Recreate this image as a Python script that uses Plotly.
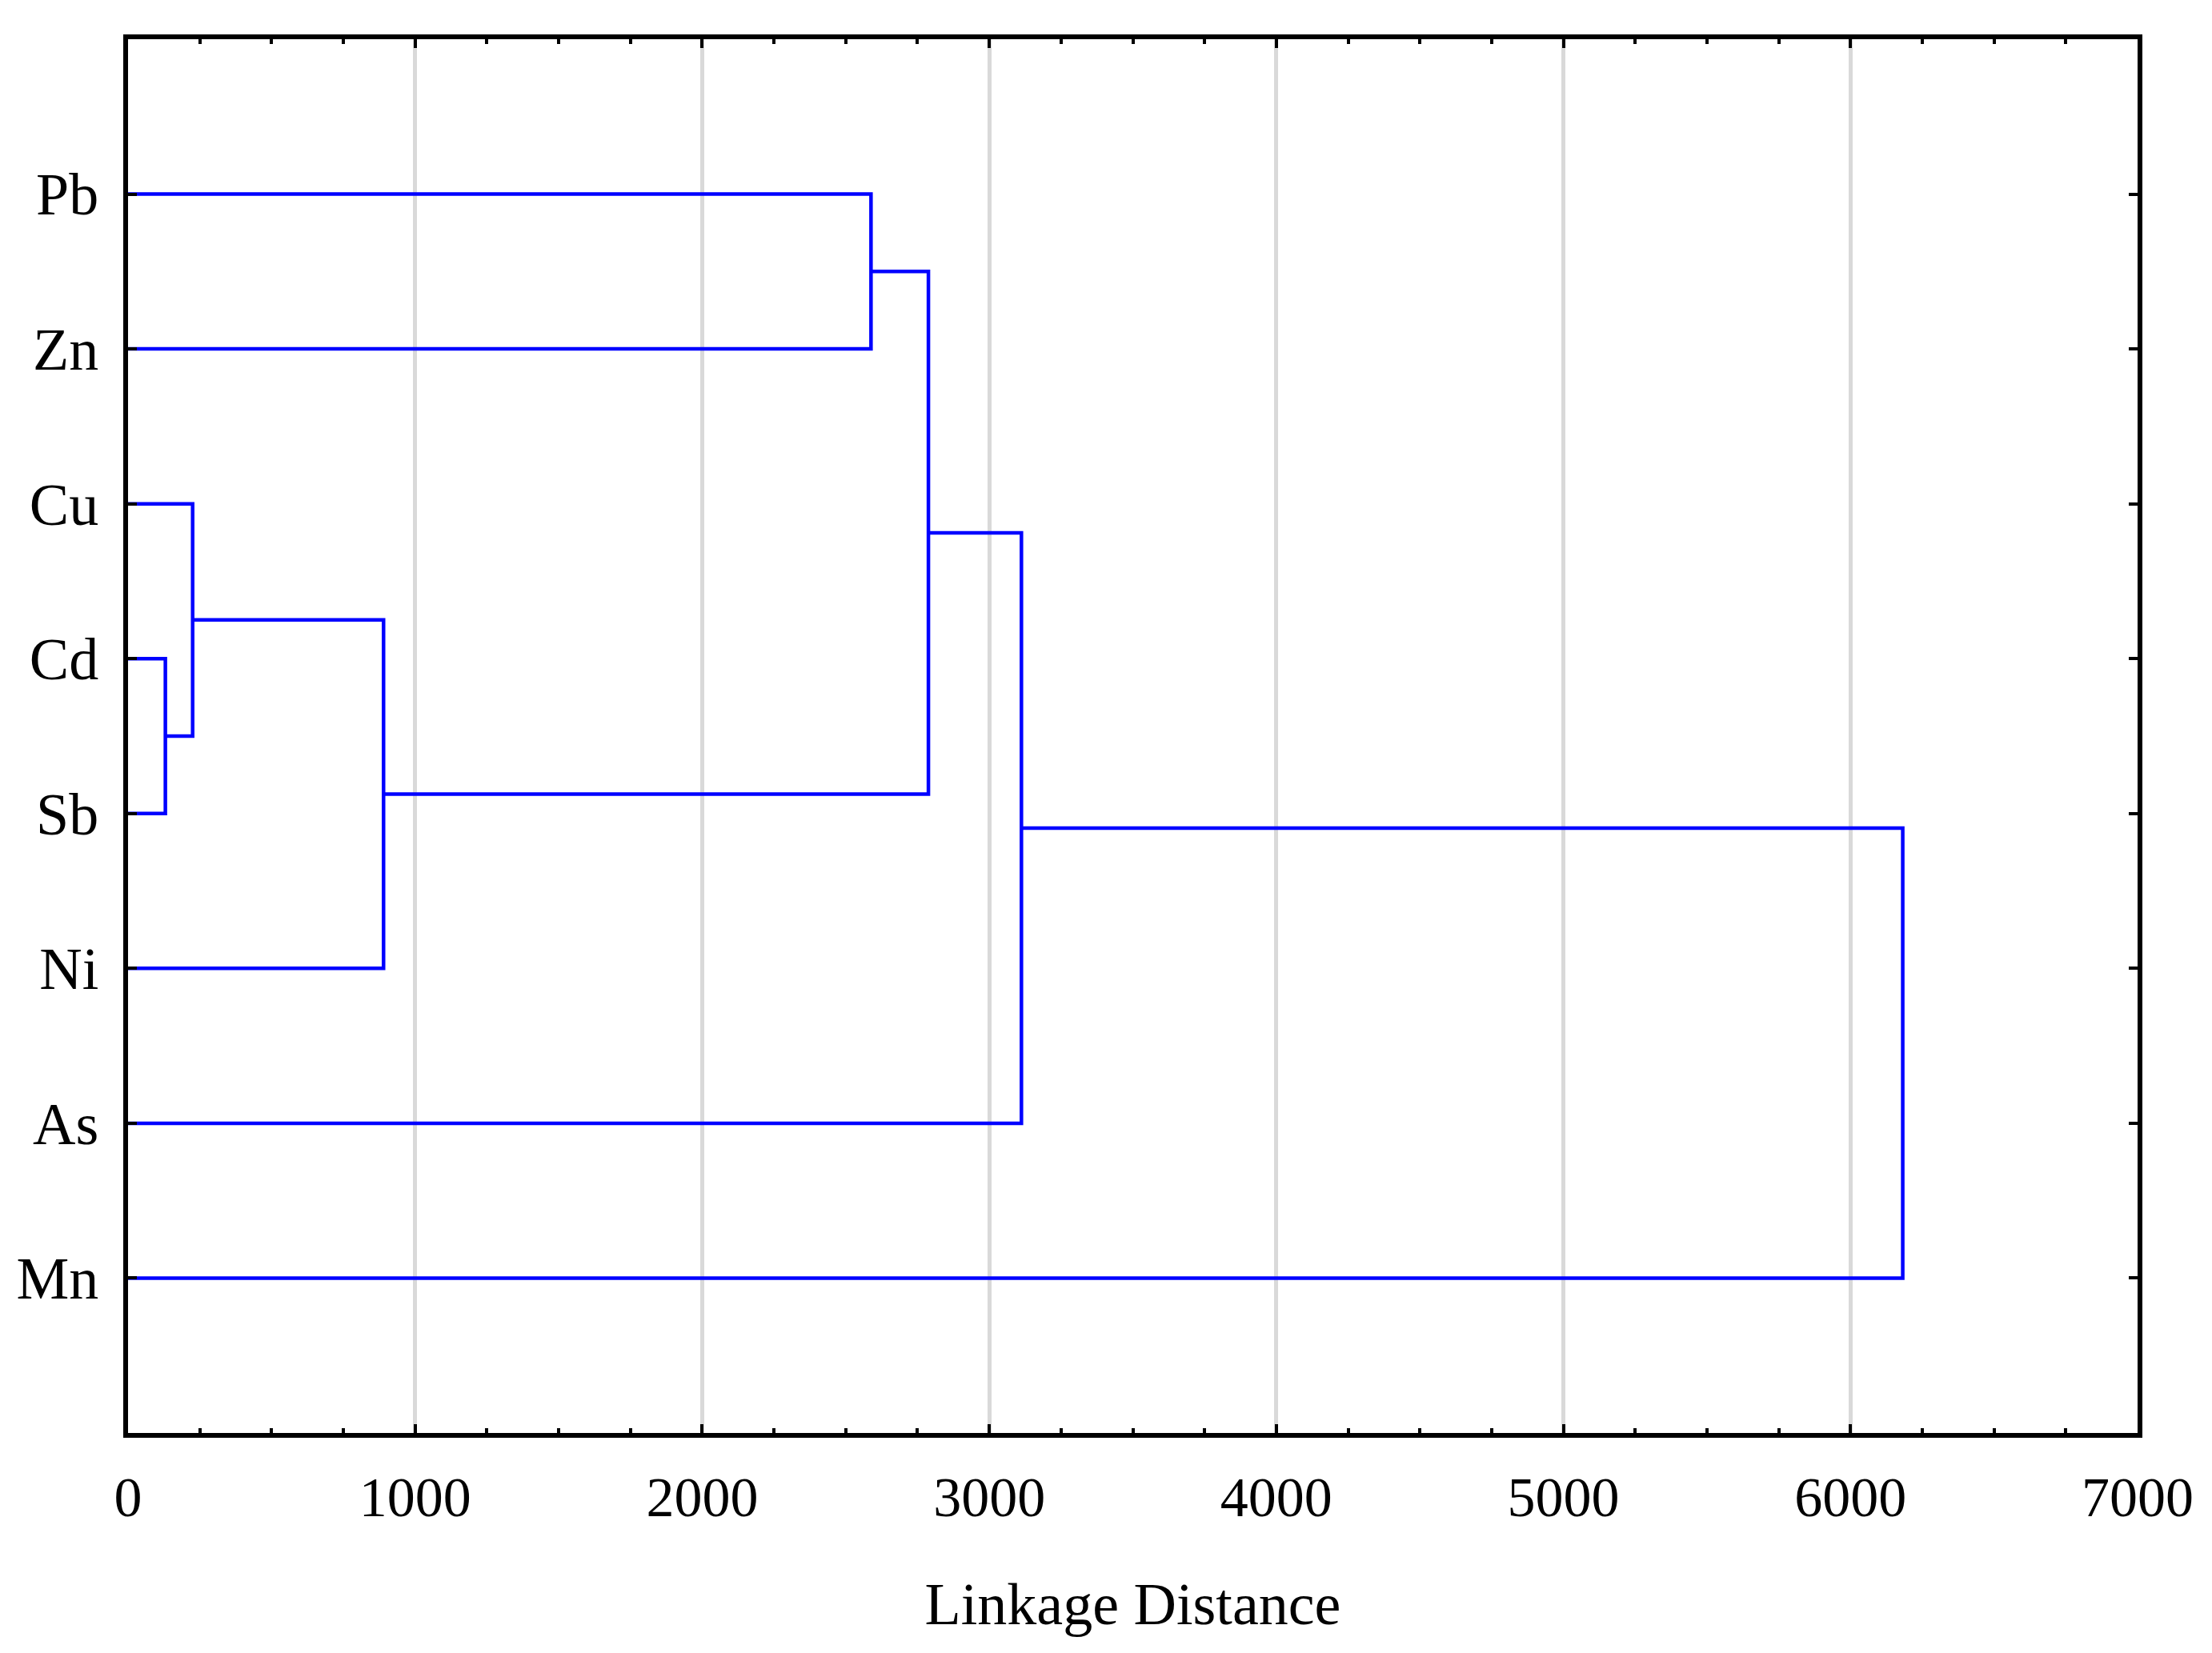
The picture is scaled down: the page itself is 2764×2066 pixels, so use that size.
import plotly.graph_objects as go

# ---- data ----
leaves = ["Pb", "Zn", "Cu", "Cd", "Sb", "Ni", "As", "Mn"]
# scipy-style linkage: ids 0..7 are leaves, 8.. are merged clusters
merge_a = [3, 2, 9, 0, 11, 12, 13]
merge_b = [4, 8, 5, 1, 10, 6, 7]
merge_height = [130, 225, 890, 2588, 2788, 3112, 6182]
x_ticks = [0, 1000, 2000, 3000, 4000, 5000, 6000, 7000]

# ---- build dendrogram geometry from linkage ----
n = len(leaves)
ypos = {i: i + 1 for i in range(n)}
xpos = {i: 0.0 for i in range(n)}
xs, ys = [], []
for k, (a, b, h) in enumerate(zip(merge_a, merge_b, merge_height)):
    node = n + k
    xs += [xpos[a], h, h, xpos[b], None]
    ys += [ypos[a], ypos[a], ypos[b], ypos[b], None]
    xpos[node] = h
    ypos[node] = (ypos[a] + ypos[b]) / 2

fig = go.Figure()
fig.add_trace(go.Scatter(x=xs, y=ys, mode="lines",
                         line=dict(color="#0000FF", width=4.5),
                         hoverinfo="skip", showlegend=False))

font_family = "Liberation Serif, Times New Roman, serif"
fig.update_layout(
    width=2748, height=2050,
    margin=dict(l=144, r=85, t=41, b=267),
    plot_bgcolor="white", paper_bgcolor="white",
    font=dict(family=font_family, size=72, color="black"),
    showlegend=False,
)
fig.update_xaxes(
    range=[0, 7000], tickvals=x_ticks, ticktext=[str(v) for v in x_ticks],
    showgrid=True, gridcolor="#d9d9d9", gridwidth=5,
    showline=True, linecolor="black", linewidth=6, mirror="ticks",
    ticks="inside", ticklen=11, tickwidth=4, tickcolor="black",
    minor=dict(dtick=250, ticks="inside", ticklen=6, tickwidth=4,
               tickcolor="black", showgrid=False),
    zeroline=False,
    tickfont=dict(size=70),
    ticklabelstandoff=14,
    title=dict(text="Linkage Distance", font=dict(size=74), standoff=71),
)
fig.update_yaxes(
    range=[9, 0], tickvals=list(range(1, n + 1)), ticktext=leaves,
    showgrid=False,
    showline=True, linecolor="black", linewidth=6, mirror="ticks",
    ticks="inside", ticklen=11, tickwidth=4, tickcolor="black",
    zeroline=False,
    tickfont=dict(size=74),
    ticklabelstandoff=16,
)
fig.write_html("out.html")
